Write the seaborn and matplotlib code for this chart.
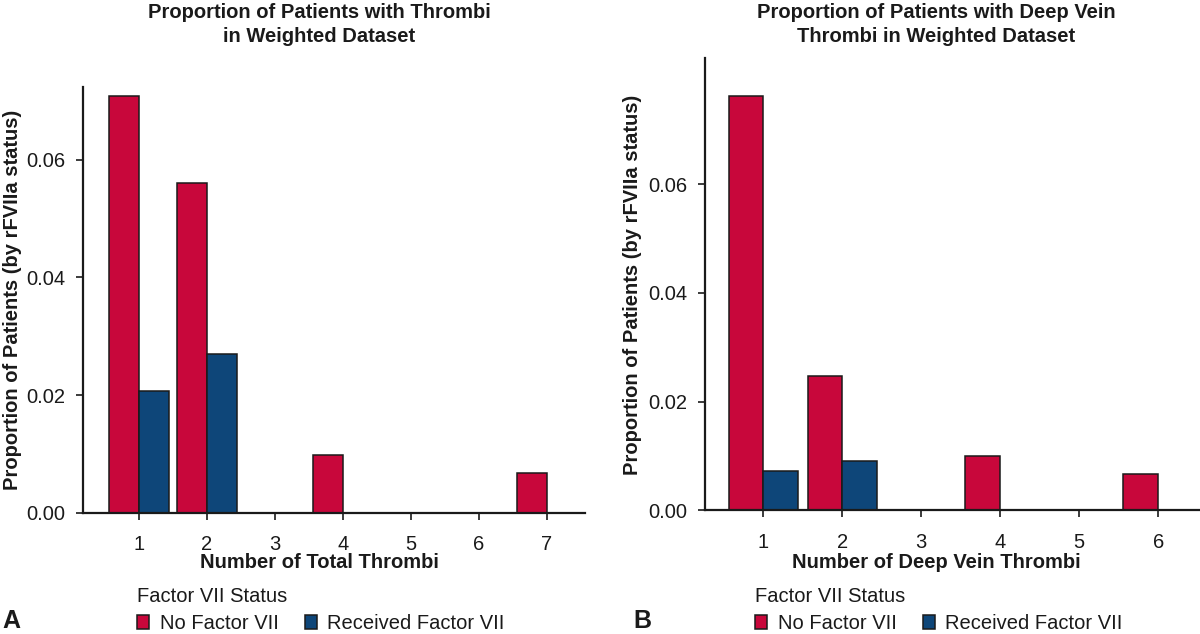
import numpy as np
import pandas as pd
import seaborn as sns
import matplotlib
matplotlib.use("Agg")
import matplotlib.pyplot as plt
from matplotlib.patches import Patch

# ---------------- data ----------------
status_levels = ["No Factor VII", "Received Factor VII"]

total_counts = [1, 2, 3, 4, 5, 6, 7]
total_no_f7 = [0.0709, 0.0561, 0.0, 0.0098, 0.0, 0.0, 0.0067]
total_rec_f7 = [0.0206, 0.0270, 0.0, 0.0, 0.0, 0.0, 0.0]

dvt_counts = [1, 2, 3, 4, 5, 6]
dvt_no_f7 = [0.0762, 0.0247, 0.0, 0.0100, 0.0, 0.0067]
dvt_rec_f7 = [0.0073, 0.0091, 0.0, 0.0, 0.0, 0.0]

yticks = [0.00, 0.02, 0.04, 0.06]
ytick_labels = ["0.00", "0.02", "0.04", "0.06"]

title_a = "Proportion of Patients with Thrombi\nin Weighted Dataset"
title_b = "Proportion of Patients with Deep Vein\nThrombi in Weighted Dataset"
xlabel_a = "Number of Total Thrombi"
xlabel_b = "Number of Deep Vein Thrombi"
ylabel = "Proportion of Patients (by rFVIIa status)"
legend_title = "Factor VII Status"

RED = "#C8073B"
BLUE = "#0E4679"
palette = {status_levels[0]: RED, status_levels[1]: BLUE}


def make_df(counts, no_vals, rec_vals):
    rows = []
    for c, v in zip(counts, no_vals):
        if v > 0:
            rows.append((c, v, status_levels[0]))
    for c, v in zip(counts, rec_vals):
        if v > 0:
            rows.append((c, v, status_levels[1]))
    return pd.DataFrame(rows, columns=["count", "prop", "status"])


df_a = make_df(total_counts, total_no_f7, total_rec_f7)
df_b = make_df(dvt_counts, dvt_no_f7, dvt_rec_f7)

# ---------------- style ----------------
sns.set_theme(style="ticks")
plt.rcParams["font.family"] = ["Liberation Sans", "DejaVu Sans"]
plt.rcParams["axes.linewidth"] = 1.5

W, H = 1200, 634
fig = plt.figure(figsize=(W / 100, H / 100), dpi=100)


def px_axes(x0, x1, ytop, ybot):
    return fig.add_axes([x0 / W, 1 - ybot / H, (x1 - x0) / W, (ybot - ytop) / H])


ax_a = px_axes(83.3, 585, 87.3, 512.7)
ax_b = px_axes(705, 1200, 58.3, 510.3)

for ax, df, counts, xlim, ylim in [
    (ax_a, df_a, total_counts, (0.18, 7.56), (0, 0.0723)),
    (ax_b, df_b, dvt_counts, (0.262, 6.53), (0, 0.0832)),
]:
    sns.barplot(data=df, x="count", y="prop", hue="status", hue_order=status_levels,
                palette=palette, native_scale=True, width=0.88, dodge=True,
                edgecolor="#1a1a1a", linewidth=1.1, saturation=1, errorbar=None,
                legend=False, ax=ax)
    ax.set_xlim(*xlim)
    ax.set_ylim(*ylim)
    ax.set_xticks(counts)
    ax.set_xticklabels([str(c) for c in counts])
    ax.set_yticks(yticks)
    ax.set_yticklabels(ytick_labels)
    ax.set_xlabel("")
    ax.set_ylabel("")
    ax.tick_params(axis="both", direction="out", length=5, width=1.2, color="#1a1a1a",
                   labelsize=14.5, labelcolor="#1a1a1a", pad=8)
    ax.tick_params(axis="x", pad=11)
    for s in ["top", "right"]:
        ax.spines[s].set_visible(False)
    for s in ["left", "bottom"]:
        ax.spines[s].set_color("#1a1a1a")
        ax.spines[s].set_linewidth(1.6)
    ax.set_facecolor("white")

txt_kw = dict(color="#1a1a1a", fontweight="bold", fontsize=14.5)

# titles
fig.text(319 / W, 1 - 3 / H, title_a, ha="center", va="top", linespacing=1.3, **txt_kw)
fig.text(936 / W, 1 - 3 / H, title_b, ha="center", va="top", linespacing=1.3, **txt_kw)

# x labels
fig.text(319 / W, 1 - 563 / H, xlabel_a, ha="center", va="center", **txt_kw)
fig.text(936 / W, 1 - 563 / H, xlabel_b, ha="center", va="center", **txt_kw)

# y labels
fig.text(13 / W, 1 - 300 / H, ylabel, ha="center", va="center", rotation=90, **txt_kw)
fig.text(633 / W, 1 - 285 / H, ylabel, ha="center", va="center", rotation=90, **txt_kw)

# panel letters
fig.text(2 / W, 1 - 621 / H, "A", ha="left", va="center", color="#1a1a1a",
         fontweight="bold", fontsize=18)
fig.text(633 / W, 1 - 621 / H, "B", ha="left", va="center", color="#1a1a1a",
         fontweight="bold", fontsize=18)

# legends
handles = [Patch(facecolor=palette[s], edgecolor="#1a1a1a", linewidth=1.1) for s in status_levels]
for x0 in (137, 755):
    leg = fig.legend(handles, status_levels, title=legend_title, loc="upper left",
                     bbox_to_anchor=(x0 / W, 1 - 587 / H), ncol=2, frameon=False,
                     alignment="left", fontsize=14.5, title_fontsize=14.5,
                     handlelength=0.62, handleheight=0.7, handletextpad=0.5,
                     columnspacing=1.3, borderpad=0, borderaxespad=0, labelspacing=0.2)
    leg.get_title().set_color("#1a1a1a")
    for t in leg.get_texts():
        t.set_color("#1a1a1a")
    leg._legend_box.sep = 6

fig.savefig("out.png", dpi=100, facecolor="white")
